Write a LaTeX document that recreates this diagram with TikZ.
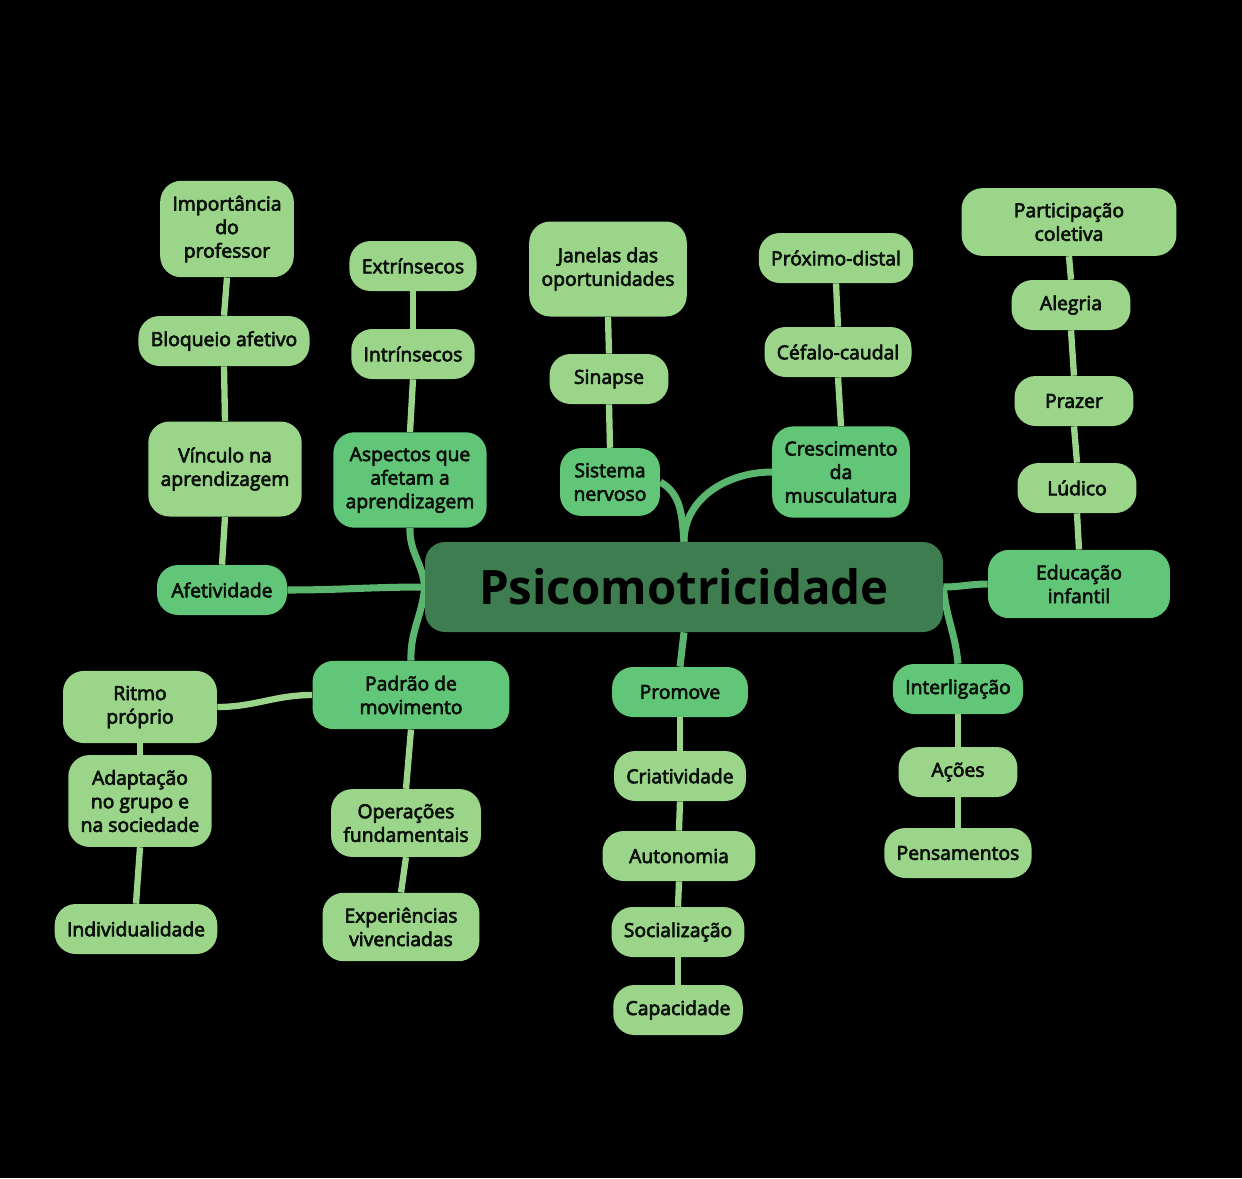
\documentclass[tikz,border=0pt]{standalone}
\usepackage{fontspec}
\setmainfont{Open Sans}
\newfontfamily\mapfont{Open Sans}[FakeBold=3.5]
\usetikzlibrary{backgrounds}
\definecolor{hub}{HTML}{3E7D4F}
\definecolor{branch}{HTML}{62C679}
\definecolor{twig}{HTML}{9AD58A}
\definecolor{ink}{HTML}{0C110C}
\tikzset{
	box/.style={rounded corners=12pt, align=center, text=ink, font={\mapfont\fontsize{11}{13.4}\selectfont}, inner xsep=7pt, inner ysep=8.5pt, minimum height=1cm, minimum width=2.38cm},
	main/.style={box, fill=branch},
	leaf/.style={box, fill=twig},
	mainlink/.style={draw=branch!92!black, line width=4pt},
	leaflink/.style={draw=twig, line width=3.6pt}
}
\begin{document}
\begin{tikzpicture}[x=0.02cm, y=-0.02cm, line join=round, line cap=round]
	\begin{scope}[on background layer]
		\fill[black] (0,0) rectangle (1242,1178);
	\end{scope}
	\node[fill=hub, rounded corners=0.4cm, minimum width=10.36cm, minimum height=1.8cm, font={\bfseries\fontsize{27}{30}\selectfont}] (psi) at (684,587) {Psicomotricidade};
	\node[main, minimum width=2.6cm] (afet) at (222,590) {Afetividade};
	\node[main] (asp) at (410,480) {Aspectos que\\afetam a\\aprendizagem};
	\node[main, minimum width=2cm] (sis) at (610,482) {Sistema\\nervoso};
	\node[main] (cre) at (841,472) {Crescimento\\da\\musculatura};
	\node[main, minimum width=3.64cm] (edu) at (1079,584) {Educação\\infantil};
	\node[main] (int) at (958,689) {Interligação};
	\node[main, minimum width=2.72cm] (prom) at (680,692) {Promove};
	\node[main, minimum width=3.94cm] (pad) at (411,695) {Padrão de\\movimento};
	\node[leaf, minimum height=1.9cm] (vin) at (225,469) {Vínculo na\\aprendizagem};
	\node[leaf] (blo) at (224,341) {Bloqueio afetivo};
	\node[leaf] (imp) at (227,229) {Importância\\do\\professor};
	\node[leaf] (intr) at (413,354) {Intrínsecos};
	\node[leaf] (extr) at (413,266) {Extrínsecos};
	\node[leaf] (sin) at (609,379) {Sinapse};
	\node[leaf, minimum height=1.9cm] (jan) at (608,269) {Janelas das\\oportunidades};
	\node[leaf] (cef) at (838,352) {Céfalo-caudal};
	\node[leaf] (pro) at (836,258) {Próximo-distal};
	\node[leaf] (lud) at (1077,488) {Lúdico};
	\node[leaf] (pra) at (1074,401) {Prazer};
	\node[leaf] (ale) at (1071,305) {Alegria};
	\node[leaf, minimum width=4.3cm] (par) at (1069,222) {Participação\\coletiva};
	\node[leaf] (aco) at (958,772) {Ações};
	\node[leaf] (pen) at (958,853) {Pensamentos};
	\node[leaf] (cri) at (680,776) {Criatividade};
	\node[leaf, minimum width=3.06cm] (aut) at (679,856) {Autonomia};
	\node[leaf] (soc) at (678,932) {Socialização};
	\node[leaf] (cap) at (678,1010) {Capacidade};
	\node[leaf, minimum width=3.08cm] (rit) at (140,707) {Ritmo\\próprio};
	\node[leaf] (ada) at (140,801) {Adaptação\\no grupo e\\na sociedade};
	\node[leaf] (ind) at (136,929) {Individualidade};
	\node[leaf] (ope) at (406,823) {Operações\\fundamentais};
	\node[leaf, minimum width=3.14cm] (exp) at (401,927) {Experiências\\vivenciadas};
	\begin{scope}[on background layer]
		\draw[mainlink] (afet.east) to[out=0, in=180] (psi.west);
		\draw[mainlink] (psi.west) to[out=95, in=-92] (asp.south);
		\draw[mainlink] (psi.west) to[out=-95, in=92] (pad.north);
		\draw[mainlink] (psi.north) to[out=95, in=-30] (sis.east);
		\draw[mainlink] (psi.north) to[out=90, in=180] (cre.west);
		\draw[mainlink] (psi.south) -- (prom.north);
		\draw[mainlink] (psi.east) to[out=0, in=180] (edu.west);
		\draw[mainlink] (psi.east) to[out=-85, in=95] (int.north);
		\draw[leaflink] (pad.west) to[out=180, in=0] (rit.east);
		\foreach \a/\b in {afet/vin, vin/blo, blo/imp, asp/intr, intr/extr, sis/sin, sin/jan, cre/cef, cef/pro, edu/lud, lud/pra, pra/ale, ale/par}
		\draw[leaflink] (\a.north) -- (\b.south);
		\foreach \a/\b in {prom/cri, cri/aut, aut/soc, soc/cap, int/aco, aco/pen, rit/ada, ada/ind, pad/ope, ope/exp}
		\draw[leaflink] (\a.south) -- (\b.north);
	\end{scope}
\end{tikzpicture}
\end{document}
